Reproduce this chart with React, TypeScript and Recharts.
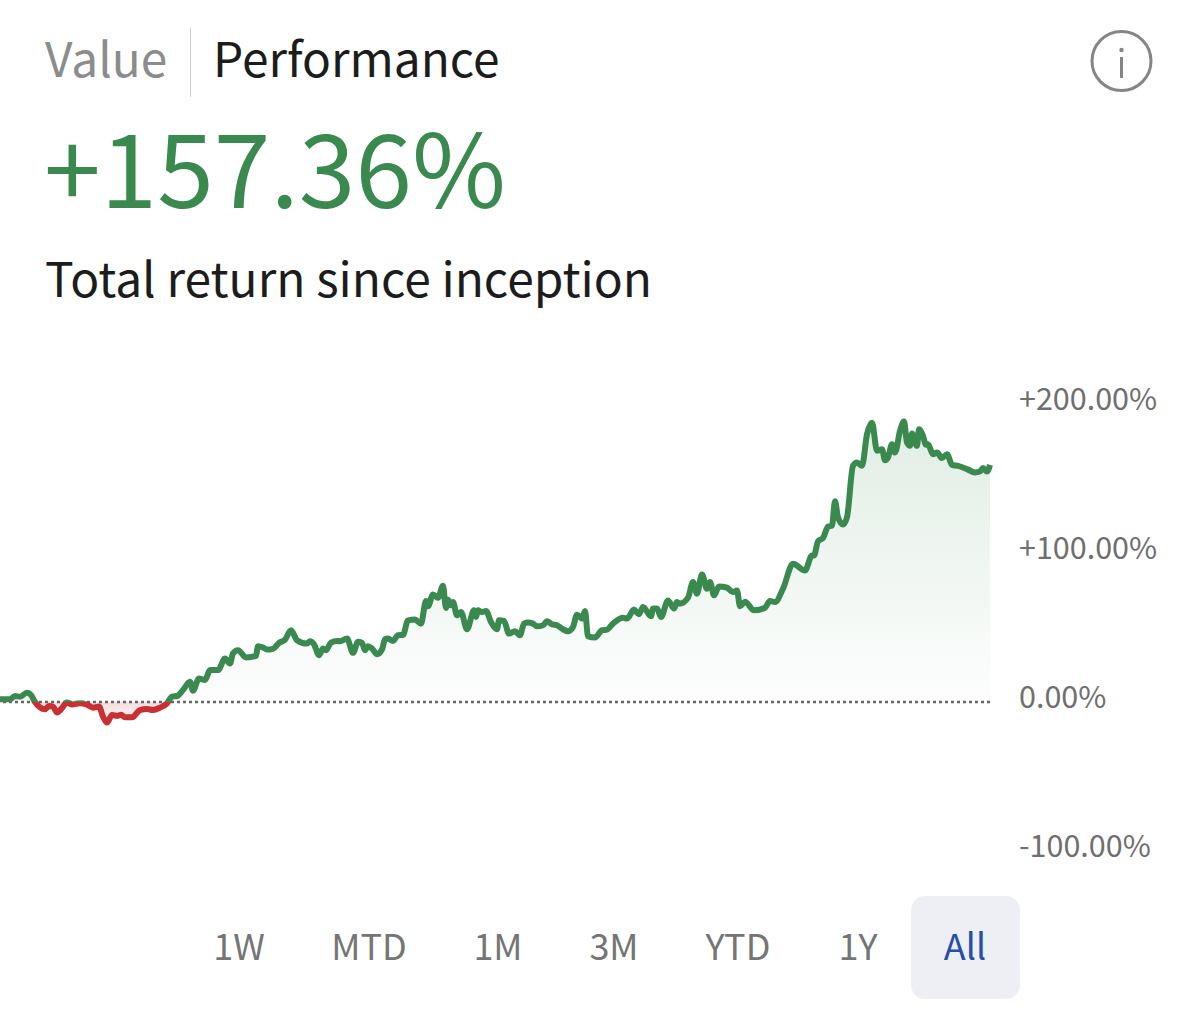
import React from 'react';
import { ComposedChart, Area, Line, XAxis, YAxis, ReferenceLine } from 'recharts';

// days since inception
const days = [
  0, 10, 15, 20, 27, 31, 35, 40, 45, 49,
  53, 57, 61, 67, 72, 80, 87, 93, 99, 103,
  107, 112, 117, 121, 125, 132, 140, 147, 153, 160,
  167, 172, 177, 183, 190, 193, 199, 205, 210, 218,
  225, 230, 233, 238, 246, 256, 258, 263, 267, 273,
  279, 285, 291, 297, 307, 310, 314, 319, 323, 326,
  331, 337,
  340, 347, 353, 358, 362, 365, 368, 372, 377, 382,
  385, 388, 393, 398, 403, 408, 415, 421, 426, 428,
  433, 438, 443, 446, 448, 451, 453, 457, 461, 467,
  474, 476, 478, 482, 486, 491, 497, 499, 504, 509,
  515, 520, 524, 528, 533, 537, 543, 547, 552, 557,
  563, 568, 573, 577, 582, 585, 588, 595, 602, 607,
  613, 623, 627, 634, 639, 643, 651, 653, 657, 661,
  668, 674, 677,
  680, 688, 693, 697, 702, 707, 710, 714, 719, 727,
  733, 737, 740, 745, 754, 765, 770, 775, 783, 793,
  805, 812, 814, 818, 823, 828, 832, 835, 838, 843,
  847, 853, 857, 862, 867, 872, 877, 882, 885, 888,
  892, 895, 900, 904, 907, 910, 912, 917, 919, 923,
  926, 928, 933, 937, 942, 947, 952, 958, 967, 975,
  980, 983, 987, 990,
];

const returns = [
  1.8, 1.8, 4.0, 3.6, 6.2, 4.7, 0, -3.6, -4.9, -2.7,
  -3.1, -7.1, -4.9, -0.4, -1.6, -0.9, -1.8, -3.8, -3.1, -9.8,
  -13.8, -8.7, -9.4, -8.5, -10.3, -10.3, -5.4, -4.7, -5.4, -3.8,
  -0.9, 3.6, 4.0, 8.0, 13.6, 7.6, 15.8, 14.7, 21.4, 21.4,
  29.2, 25.9, 32.6, 34.8, 29.9, 31.0, 37.5, 36.6, 35.2, 35.7,
  39.7, 41.9, 48.2, 41.5, 39.2, 40.8, 38.8, 31.4, 35.9, 34.8,
  39.9, 41.0,
  40.8, 42.6, 33.0, 40.4, 39.7, 34.8, 37.5, 35.9, 32.1, 35.2,
  42.1, 42.6, 41.0, 44.8, 45.0, 54.8, 55.3, 52.6, 67.8, 64.2,
  72.2, 70.0, 78.0, 63.1, 68.7, 64.9, 67.1, 58.2, 60.4, 48.8,
  61.5, 57.1, 61.5, 60.4, 61.1, 53.7, 48.8, 54.8, 54.4, 45.9,
  47.5, 44.8, 52.6, 53.3, 52.6, 50.8, 51.5, 54.2, 52.2, 51.5,
  48.8, 47.5, 50.4, 58.6, 56.0, 61.1, 44.1, 43.3, 48.2, 48.6,
  52.6, 56.6, 56.0, 62.0, 58.9, 63.8, 57.5, 62.7, 62.7, 57.1,
  68.2, 62.7, 67.1,
  66.0, 70.0, 80.5, 72.7, 85.6, 76.0, 80.5, 71.6, 77.6, 76.7,
  73.8, 74.9, 64.2, 67.3, 61.5, 63.3, 67.8, 67.1, 76.0, 92.8,
  88.3, 98.3, 98.3, 107.9, 110.1, 117.7, 118.4, 134.7, 124.0, 119.1,
  124.0, 158.5, 160.8, 158.5, 179.7, 187.5, 168.6, 169.7, 162.3, 164.1,
  173.0, 167.4, 181.9, 188.2, 174.1, 171.9, 180.2, 171.9, 183.1, 178.6,
  172.6, 173.0, 166.3, 167.4, 163.7, 166.3, 159.2, 158.5, 156.3, 154.1,
  154.7, 157.0, 154.7, 159.2,
];

const yTicks = [-100, 0, 100, 200];
const yTickLabels = ['-100.00%', '0.00%', '+100.00%', '+200.00%'];
const ranges = ['1W', 'MTD', '1M', '3M', 'YTD', '1Y', 'All'];
const rangeCenters = [239, 369, 498, 614, 738, 858, 965];

const chartData = days.map((day, i) => ({ day, value: returns[i] }));

const GREEN = '#3a8a50';
const RED = '#c92f33';
const FONT = '"Noto Sans CJK SC", "Noto Sans", sans-serif';

// where zero falls inside the bounding box of the line
const top = Math.max(...returns);
const bottom = Math.min(...returns);
const zeroAt = top / (top - bottom);

const label = (left: number, topPx: number, size: number, color: string): React.CSSProperties => ({
  position: 'absolute',
  left,
  top: topPx,
  fontSize: size,
  color,
  lineHeight: 1,
  whiteSpace: 'nowrap',
});

export default function App() {
  return (
    <div
      style={{
        position: 'absolute',
        left: 0,
        top: 0,
        width: 1200,
        height: 1031,
        background: '#fff',
        overflow: 'hidden',
        fontFamily: FONT,
      }}
    >
      <div style={label(45, 33, 47.8, '#8c8c8c')}>Value</div>
      <div style={{ position: 'absolute', left: 190, top: 28, width: 1, height: 69, background: '#cfcfcf' }} />
      <div style={label(213, 33, 47.8, '#1c1c1c')}>Performance</div>

      <svg style={{ position: 'absolute', left: 1090, top: 30 }} width={64} height={64}>
        <circle cx={31.5} cy={31} r={29.5} fill="none" stroke="#858585" strokeWidth={3} />
        <circle cx={31.5} cy={20} r={2.2} fill="#858585" />
        <rect x={30} y={27} width={3} height={21} fill="#858585" />
      </svg>

      <div style={label(44, 113, 102, GREEN)}>+157.36%</div>
      <div style={label(45, 253, 47.9, '#1c1c1c')}>Total return since inception</div>

      <div style={{ position: 'absolute', left: 0, top: 380 }}>
        <ComposedChart
          width={1200}
          height={500}
          data={chartData}
          margin={{ top: 24, right: 0, bottom: 29, left: 0 }}
        >
          <defs>
            <linearGradient id="lineSplit" x1="0" y1="0" x2="0" y2="1">
              <stop offset={zeroAt} stopColor={GREEN} />
              <stop offset={zeroAt} stopColor={RED} />
            </linearGradient>
            <linearGradient id="fillSplit" x1="0" y1="0" x2="0" y2="1">
              <stop offset={0} stopColor={GREEN} stopOpacity={0.15} />
              <stop offset={zeroAt} stopColor={GREEN} stopOpacity={0.01} />
              <stop offset={zeroAt} stopColor={RED} stopOpacity={0.16} />
              <stop offset={1} stopColor={RED} stopOpacity={0.04} />
            </linearGradient>
          </defs>
          <XAxis type="number" dataKey="day" domain={[0, 990]} hide />
          <YAxis
            orientation="right"
            width={210}
            domain={[-100, 200]}
            ticks={yTicks}
            axisLine={false}
            tickLine={false}
            tickSize={0}
            tickMargin={29}
            tick={{ fontSize: 30.5, fill: '#6f6f6f', dy: -4.5, fontFamily: FONT }}
            tickFormatter={(v: number) => yTickLabels[yTicks.indexOf(v)]}
          />
          <Area
            dataKey="value"
            type="monotone"
            stroke="none"
            fill="url(#fillSplit)"
            fillOpacity={1}
            dot={false}
            activeDot={false}
            isAnimationActive={false}
          />
          <ReferenceLine y={0} stroke="#666" strokeWidth={2.5} strokeDasharray="3 3" />
          <Line
            dataKey="value"
            type="monotone"
            stroke="url(#lineSplit)"
            strokeWidth={6}
            strokeLinejoin="round"
            dot={false}
            activeDot={false}
            isAnimationActive={false}
          />
        </ComposedChart>
      </div>

      <div style={{ position: 'absolute', left: 911, top: 896, width: 109, height: 103, borderRadius: 14, background: '#eeeff5' }} />
      {ranges.map((r, i) => (
        <div
          key={r}
          style={{
            ...label(rangeCenters[i] - 60, 926, 36, r === 'All' ? '#2450a8' : '#757575'),
            width: 120,
            textAlign: 'center',
          }}
        >
          {r}
        </div>
      ))}
    </div>
  );
}
